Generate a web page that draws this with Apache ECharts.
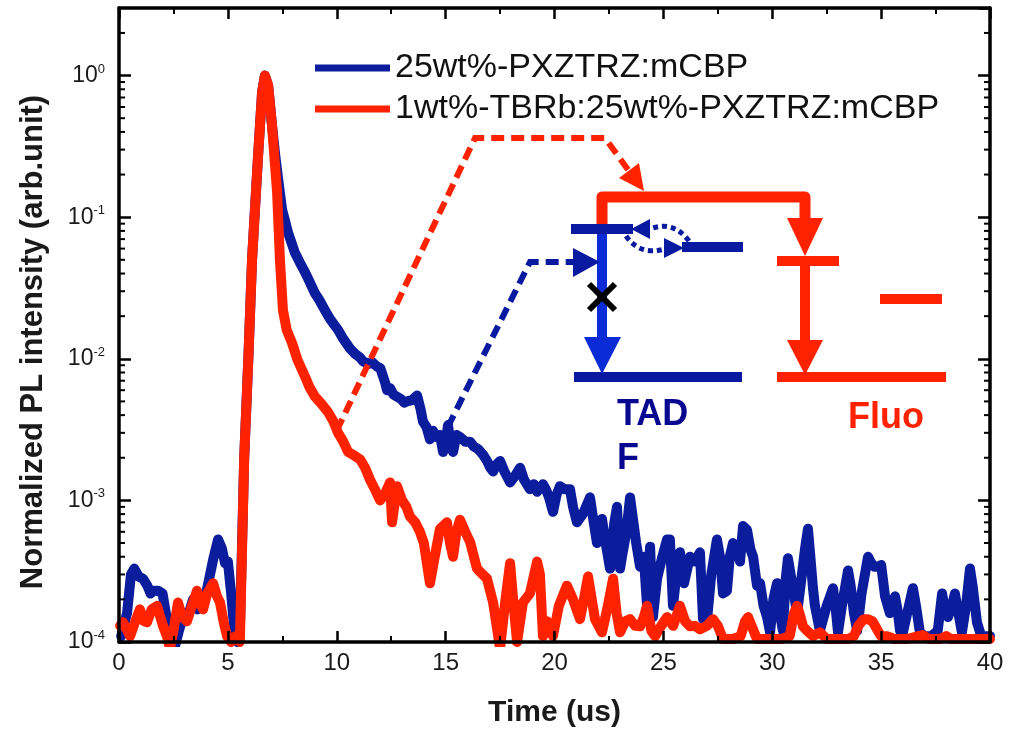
<!DOCTYPE html>
<html>
<head>
<meta charset="utf-8">
<script src="https://cdn.jsdelivr.net/npm/echarts@6/dist/echarts.min.js"></script>
<style>
  html, body { margin: 0; padding: 0; background: #fff; }
  #main { width: 1010px; height: 734px; }
</style>
</head>
<body>
<div id="main"></div>
<script>
// Transient PL decay, normalized intensity vs time (us)
const seriesNames = ['25wt%-PXZTRZ:mCBP', '1wt%-TBRb:25wt%-PXZTRZ:mCBP'];

const blueTime = [
  0.10, 0.37, 0.55, 0.70, 0.90, 1.10, 1.30, 1.45, 1.60, 1.80, 2.00, 2.15, 2.34, 2.55, 2.75, 3.00, 3.15, 3.40, 3.60, 3.85,
  4.05, 4.32, 4.55, 4.72, 4.87, 5.00, 5.15, 5.30, 5.45, 5.55, 5.75, 5.95, 6.11, 6.38, 6.57, 6.70, 6.85, 7.03, 7.18, 7.30,
  7.49, 7.62, 7.76, 7.92, 8.08, 8.30, 8.54, 8.75, 9.00, 9.20, 9.46, 9.70, 10.06, 10.30, 10.61, 10.85, 11.07, 11.21, 11.45, 11.65,
  11.85, 12.00, 12.22, 12.31, 12.45, 12.60, 12.77, 12.95, 13.10, 13.23, 13.45, 13.69, 13.85, 13.96, 14.12, 14.28, 14.42, 14.60, 14.74, 14.88,
  15.06, 15.11, 15.22, 15.34, 15.50, 15.66, 15.90, 16.12, 16.30, 16.50, 16.72, 16.90, 17.05, 17.18, 17.35, 17.50, 17.70, 17.96, 18.20, 18.42,
  18.60, 18.87, 19.05, 19.20, 19.47, 19.60, 19.75, 19.93, 20.10, 20.25, 20.45, 20.71, 20.85, 21.03, 21.30, 21.63, 21.80, 21.95, 22.18, 22.35,
  22.55, 22.75, 22.87, 23.01, 23.10, 23.30, 23.47, 23.56, 23.75, 23.93, 24.10, 24.25, 24.39, 24.52, 24.71, 24.95, 25.17, 25.30, 25.44, 25.60,
  25.76, 25.95, 26.22, 26.45, 26.68, 26.82, 27.00, 27.20, 27.46, 27.60, 27.74, 27.92, 28.05, 28.20, 28.35, 28.52, 28.66, 28.84, 29.00, 29.12,
  29.30, 29.44, 29.60, 29.76, 29.90, 30.05, 30.22, 30.35, 30.49, 30.62, 30.72, 30.81, 30.95, 31.14, 31.30, 31.50, 31.64, 31.75, 31.87, 31.96,
  32.19, 32.28, 32.50, 32.79, 32.90, 33.02, 33.20, 33.48, 33.60, 33.75, 33.90, 34.10, 34.40, 34.55, 34.70, 34.86, 35.00, 35.18, 35.40, 35.64,
  35.75, 35.87, 36.00, 36.20, 36.46, 36.60, 36.78, 37.00, 37.30, 37.60, 37.80, 37.95, 38.07, 38.25, 38.39, 38.55, 38.71, 38.90, 39.08, 39.20,
  39.40, 39.60, 39.86, 40.00
];
const blueValue = [
  0.00011, 0.00016, 0.00030, 0.00033, 0.00029, 0.00028, 0.00025, 0.00022, 0.00023, 0.00023, 0.00022, 0.00016, 0.00010, 0.00009, 0.00012, 0.00016, 0.00015, 0.00020, 0.00017, 0.00019,
  0.00024, 0.00038, 0.00053, 0.00046, 0.00036, 0.00037, 0.00022, 0.00012, 0.00010, 0.00012, 0.0020, 0.011, 0.050, 0.26, 0.76, 1.0, 0.85, 0.44, 0.27, 0.19,
  0.113, 0.095, 0.078, 0.066, 0.056, 0.048, 0.041, 0.035, 0.029, 0.026, 0.022, 0.019, 0.016, 0.0138, 0.0118, 0.0108, 0.0102, 0.0096, 0.0092, 0.0094,
  0.0088, 0.0086, 0.0068, 0.0060, 0.0062, 0.0056, 0.0054, 0.0052, 0.0049, 0.0050, 0.0051, 0.0055, 0.0044, 0.0036, 0.0033, 0.0027, 0.0031, 0.0028, 0.0029, 0.0022,
  0.0030, 0.0034, 0.0025, 0.0022, 0.0029, 0.0028, 0.0026, 0.0026, 0.0024, 0.0023, 0.0021, 0.0019, 0.0017, 0.0016, 0.0018, 0.0019, 0.0016, 0.00134, 0.0015, 0.0017,
  0.0014, 0.0012, 0.0013, 0.00115, 0.0013, 0.0012, 0.00105, 0.00083, 0.0011, 0.00126, 0.0012, 0.0012, 0.0009, 0.0007, 0.0008, 0.00105, 0.0007, 0.0005, 0.00074, 0.0005,
  0.00033, 0.0007, 0.0009, 0.00033, 0.0004, 0.0006, 0.00105, 0.00107, 0.0005, 0.00034, 0.0004, 0.00018, 0.00047, 0.00015, 0.00028, 0.0004, 0.00053, 0.00053, 0.00018, 0.0003,
  0.00043, 0.00026, 0.0004, 0.00037, 0.00043, 0.000145, 0.00014, 0.0003, 0.00053, 0.0004, 0.00022, 0.00023, 0.0004, 0.0005, 0.00045, 0.00037, 0.00066, 0.00062, 0.00045, 0.0004,
  0.00025, 0.00026, 0.00018, 0.00015, 0.000117, 0.0002, 0.00026, 0.00016, 0.00012, 0.00028, 0.00039, 0.00038, 0.00024, 0.00016, 0.00025, 0.00045, 0.00063, 0.0004, 0.00024, 0.00018,
  0.00012, 0.000117, 0.00018, 0.00024, 0.00018, 0.000117, 0.00018, 0.00032, 0.00025, 0.00016, 0.00012, 0.00022, 0.0004, 0.00036, 0.00034, 0.00034, 0.00035, 0.00021, 0.00016, 0.00021,
  0.00017, 0.00012, 0.000117, 0.00016, 0.00024, 0.00018, 0.000117, 0.00011, 0.00011, 0.00012, 0.00022, 0.00016, 0.00015, 0.00018, 0.00022, 0.00016, 0.000117, 0.00018, 0.00033, 0.00025,
  0.000138, 0.00011, 0.00011, 0.00011
];

const redTime = [
  0.05, 0.18, 0.51, 0.75, 0.96, 1.15, 1.29, 1.50, 1.75, 1.90, 2.02, 2.20, 2.34, 2.50, 2.71, 2.90, 3.12, 3.35, 3.58, 3.70,
  3.86, 4.05, 4.32, 4.50, 4.64, 4.80, 4.96, 5.15, 5.35, 5.55, 5.75, 5.95, 6.11, 6.38, 6.57, 6.70, 6.85, 7.03, 7.15, 7.26,
  7.39, 7.53, 7.70, 7.94, 8.20, 8.54, 8.75, 9.00, 9.30, 9.60, 9.85, 10.06, 10.30, 10.52, 10.75, 11.07, 11.30, 11.53, 11.75, 11.99,
  12.20, 12.45, 12.54, 12.77, 13.00, 13.20, 13.36, 13.60, 13.82, 14.00, 14.28, 14.50, 14.74, 15.06, 15.20, 15.34, 15.50, 15.66, 15.90, 16.12,
  16.44, 16.70, 16.90, 17.18, 17.50, 17.75, 17.96, 18.10, 18.28, 18.55, 18.87, 19.20, 19.33, 19.47, 19.66, 19.93, 20.20, 20.57, 20.85, 21.17,
  21.35, 21.54, 21.86, 22.18, 22.45, 22.69, 22.85, 23.01, 23.25, 23.47, 23.70, 23.93, 24.10, 24.25, 24.45, 24.62, 24.90, 25.17, 25.45, 25.76,
  26.00, 26.22, 26.45, 26.68, 27.00, 27.28, 27.50, 27.74, 28.00, 28.20, 28.55, 28.75, 28.89, 29.05, 29.30, 29.60, 30.00, 30.40, 30.80, 31.00,
  31.14, 31.30, 31.41, 31.60, 31.87, 32.19, 32.50, 33.00, 33.50, 33.75, 33.95, 34.20, 34.40, 34.60, 34.85, 35.00, 35.27, 35.60, 36.20, 36.70,
  36.90, 37.20, 37.70, 38.00, 38.20, 38.60, 39.20, 39.70, 40.00
];
const redValue = [
  0.00013, 0.000138, 0.00011, 0.00014, 0.00017, 0.00014, 0.000138, 0.00017, 0.00018, 0.00015, 0.00013, 0.00011, 0.00009, 0.00012, 0.00019, 0.00015, 0.00014, 0.00018, 0.00023, 0.00019,
  0.00017, 0.00022, 0.00026, 0.00021, 0.00019, 0.00014, 0.00011, 0.00010, 0.00011, 0.00010, 0.0020, 0.011, 0.050, 0.26, 0.76, 1.0, 0.85, 0.44, 0.25, 0.15,
  0.050, 0.022, 0.016, 0.013, 0.0098, 0.0075, 0.0063, 0.0054, 0.0048, 0.0042, 0.0036, 0.0030, 0.0026, 0.0022, 0.0021, 0.00195, 0.0017, 0.0014, 0.0012, 0.0010,
  0.0011, 0.00134, 0.0007, 0.00126, 0.0010, 0.0009, 0.00077, 0.0007, 0.0006, 0.0005, 0.00026, 0.0004, 0.00063, 0.0007, 0.0005, 0.0004, 0.0006, 0.00073, 0.0006, 0.00051,
  0.00033, 0.0003, 0.00028, 0.00019, 0.00009, 0.0002, 0.00036, 0.0002, 0.0001, 0.00019, 0.00022, 0.00037, 0.0003, 0.00011, 0.00014, 0.00011, 0.00018, 0.00025, 0.0002, 0.000145,
  0.0002, 0.00029, 0.000145, 0.000117, 0.00018, 0.00028, 0.00016, 0.000117, 0.00014, 0.000145, 0.00013, 0.000129, 0.00015, 0.00018, 0.00012, 0.00011, 0.00013, 0.00015, 0.00013, 0.00018,
  0.00014, 0.000129, 0.00013, 0.000123, 0.00013, 0.000145, 0.00013, 0.000105, 0.000105, 0.000105, 0.00011, 0.00014, 0.00015, 0.00013, 0.000105, 0.000105, 0.000105, 0.000105, 0.00011, 0.00016,
  0.00018, 0.00015, 0.000129, 0.00012, 0.00011, 0.000117, 0.000105, 0.000105, 0.000105, 0.00011, 0.00013, 0.000145, 0.000145, 0.00014, 0.00012, 0.00011, 0.00011, 0.000105, 0.000105, 0.00011,
  0.000112, 0.000105, 0.000105, 0.00011, 0.000105, 0.000105, 0.000105, 0.000105, 0.000105
];

// Axis ranges and ticks
const xRange = [0, 40];
const xStep = 5;
const yRange = [1e-4, 3];
const yMinorTicks = [
  2e-4, 3e-4, 4e-4, 5e-4, 6e-4, 7e-4, 8e-4, 9e-4,
  2e-3, 3e-3, 4e-3, 5e-3, 6e-3, 7e-3, 8e-3, 9e-3,
  2e-2, 3e-2, 4e-2, 5e-2, 6e-2, 7e-2, 8e-2, 9e-2,
  0.2, 0.3, 0.4, 0.5, 0.6, 0.7, 0.8, 0.9, 2
];
const yTitle = 'Normalized PL intensity (arb.unit)';
// Points on the decay curves that the diagram arrows start from
const redArrowFrom = [10.0, 0.0031];
const blueArrowFrom = [15.1, 0.0033];

const BLUE = '#0b1c9c';
const RED = '#ff2200';
const FONT = '"Liberation Sans", Arial, sans-serif';

function zip(a, b) { return a.map((t, i) => [t, b[i]]); }

function decadeLabel(v) {
  const l = Math.log10(v);
  const e = Math.round(l);
  if (Math.abs(l - e) > 1e-6) return '';
  return '{b|10}{s|' + e + '}';
}

const axisLineStyle = { color: '#000', width: 3.5 };
const tickStyle = { color: '#000', width: 2.5 };

function xAxisOf(pos, labels) {
  return {
    type: 'value', position: pos, min: xRange[0], max: xRange[1], interval: xStep,
    z: 3,
    axisLine: { show: true, onZero: false, lineStyle: axisLineStyle },
    axisTick: { show: true, inside: true, length: 11, lineStyle: tickStyle },
    minorTick: { show: true, splitNumber: 2, length: 6, lineStyle: { color: '#000', width: 2 } },
    splitLine: { show: false },
    axisLabel: { show: labels, fontSize: 24, color: '#1a1a1a', fontFamily: FONT, margin: 9 },
    name: labels ? 'Time (us)' : '',
    nameLocation: 'middle', nameGap: 56,
    nameTextStyle: { fontSize: 30, fontWeight: 'bold', color: '#1a1a1a', fontFamily: FONT }
  };
}

function yAxisOf(pos, labels) {
  return {
    type: 'log', logBase: 10, position: pos, min: yRange[0], max: yRange[1],
    z: 3,
    axisLine: { show: true, onZero: false, lineStyle: axisLineStyle },
    axisTick: { show: true, inside: true, length: 12, lineStyle: tickStyle },
    minorTick: { show: false },
    splitLine: { show: false },
    axisLabel: {
      show: labels, margin: 14, showMaxLabel: false,
      formatter: decadeLabel,
      rich: {
        b: { fontSize: 23, lineHeight: 26, color: '#1a1a1a', fontFamily: FONT },
        s: { fontSize: 13, lineHeight: 13, verticalAlign: 'top', color: '#1a1a1a', fontFamily: FONT }
      }
    }
  };
}

const chart = echarts.init(document.getElementById('main'), null, { renderer: 'canvas' });

chart.setOption({
  animation: false,
  backgroundColor: '#fff',
  grid: { left: 119, right: 20, top: 8, bottom: 92, containLabel: false },
  xAxis: [xAxisOf('bottom', true), xAxisOf('top', false)],
  yAxis: [yAxisOf('left', true), yAxisOf('right', false)],
  legend: {
    left: 310, top: 46, orient: 'vertical',
    itemWidth: 75, itemHeight: 7, itemGap: 7,
    textStyle: { fontSize: 34, lineHeight: 34, color: '#111', fontFamily: FONT },
    data: [{ name: seriesNames[0], icon: 'rect' }, { name: seriesNames[1], icon: 'rect' }]
  },
  series: [
    {
      name: seriesNames[0], type: 'line', xAxisIndex: 0, yAxisIndex: 0,
      data: zip(blueTime, blueValue), showSymbol: false, symbol: 'none',
      lineStyle: { color: BLUE, width: 10, join: 'round', cap: 'round' },
      itemStyle: { color: BLUE }, z: 2
    },
    {
      name: seriesNames[1], type: 'line', xAxisIndex: 0, yAxisIndex: 0,
      data: zip(redTime, redValue), showSymbol: false, symbol: 'none',
      lineStyle: { color: RED, width: 10, join: 'round', cap: 'round' },
      itemStyle: { color: RED }, z: 2
    },
    {
      // minor ticks between decades on the left and right log axes
      type: 'custom', xAxisIndex: 0, yAxisIndex: 0, silent: true, clip: false, z: 4,
      data: yMinorTicks.map(v => [xRange[0], v]),
      renderItem: function (params, api) {
        const v = api.value(1);
        const l = api.coord([xRange[0], v]);
        const r = api.coord([xRange[1], v]);
        const st = { stroke: '#000', lineWidth: 2 };
        return {
          type: 'group',
          children: [
            { type: 'line', shape: { x1: l[0], y1: l[1], x2: l[0] + 6, y2: l[1] }, style: st },
            { type: 'line', shape: { x1: r[0] - 6, y1: r[1], x2: r[0], y2: r[1] }, style: st }
          ]
        };
      }
    }
  ]
});

// Energy-level diagram drawn over the plot
const rp = chart.convertToPixel({ seriesIndex: 0 }, redArrowFrom);
const bp = chart.convertToPixel({ seriesIndex: 0 }, blueArrowFrom);
const DBLUE = '#0a1aa0';
const LBLUE = '#0a2bd6';
const TBLUE = '#07078f';

function bar(x, y, w, h, color) {
  return { type: 'rect', shape: { x: x, y: y, width: w, height: h }, style: { fill: color }, z: 10 };
}
function tri(points, color) {
  return { type: 'polygon', shape: { points: points }, style: { fill: color }, z: 11 };
}

chart.setOption({
  graphic: [
    // y axis title, vertical
    { type: 'text', x: 33, y: 342, rotation: Math.PI / 2, z: 12,
      style: { text: yTitle, font: 'bold 31px ' + FONT, fill: '#1a1a1a', align: 'center', verticalAlign: 'middle' } },

    // red dashed pointer from the doped-film curve
    { type: 'polyline', shape: { points: [rp, [475, 138], [605, 138], [629, 171]] },
      style: { stroke: RED, lineWidth: 6, lineDash: [13, 7], fill: null }, z: 10 },
    tri([[644, 191], [619, 178], [639, 163]], RED),
    // blue dashed pointer from the host-film curve
    { type: 'polyline', shape: { points: [bp, [530, 262], [576, 262]] },
      style: { stroke: DBLUE, lineWidth: 6, lineDash: [13, 7], fill: null }, z: 10 },
    tri([[600, 262], [573, 248], [573, 277]], DBLUE),

    // red energy transfer bracket
    { type: 'polyline', shape: { points: [[602, 232], [602, 197], [805, 197], [805, 222]] },
      style: { stroke: RED, lineWidth: 11, lineJoin: 'round', fill: null }, z: 10 },
    tri([[787, 218], [823, 218], [805, 256]], RED),
    bar(777, 256, 62, 10, RED),
    { type: 'line', shape: { x1: 805, y1: 264, x2: 805, y2: 342 }, style: { stroke: RED, lineWidth: 10 }, z: 10 },
    tri([[787, 340], [823, 340], [805, 375]], RED),
    bar(777, 372, 169, 10, RED),
    bar(880, 294, 62, 10, RED),

    // TADF host levels
    bar(571, 224, 62, 10, DBLUE),
    bar(682, 242, 61, 10, DBLUE),
    bar(574, 372, 168, 10, DBLUE),
    { type: 'line', shape: { x1: 602, y1: 234, x2: 602, y2: 339 }, style: { stroke: LBLUE, lineWidth: 10 }, z: 10 },
    tri([[584, 337], [621, 337], [602, 374]], LBLUE),
    // blocked emission mark
    { type: 'line', shape: { x1: 589, y1: 284, x2: 615, y2: 310 }, style: { stroke: '#000', lineWidth: 6 }, z: 12 },
    { type: 'line', shape: { x1: 589, y1: 310, x2: 615, y2: 284 }, style: { stroke: '#000', lineWidth: 6 }, z: 12 },
    // ISC / RISC dotted arrows
    { type: 'bezierCurve', shape: { x1: 689, y1: 241, x2: 650, y2: 229, cpx1: 673, cpy1: 220 },
      style: { stroke: DBLUE, lineWidth: 5, lineDash: [5, 4], fill: null }, z: 10 },
    tri([[631, 229], [650, 219], [650, 239]], DBLUE),
    { type: 'bezierCurve', shape: { x1: 626, y1: 236, x2: 665, y2: 249, cpx1: 640, cpy1: 256 },
      style: { stroke: DBLUE, lineWidth: 5, lineDash: [5, 4], fill: null }, z: 10 },
    tri([[684, 248], [664, 238], [664, 258]], DBLUE),

    // labels
    { type: 'text', x: 617, y: 415, z: 12,
      style: { text: 'TAD', font: 'bold 36px ' + FONT, fill: TBLUE, verticalAlign: 'middle', align: 'left' } },
    { type: 'text', x: 617, y: 459, z: 12,
      style: { text: 'F', font: 'bold 36px ' + FONT, fill: TBLUE, verticalAlign: 'middle', align: 'left' } },
    { type: 'text', x: 848, y: 418, z: 12,
      style: { text: 'Fluo', font: 'bold 36px ' + FONT, fill: RED, verticalAlign: 'middle', align: 'left' } }
  ]
});
</script>
</body>
</html>
